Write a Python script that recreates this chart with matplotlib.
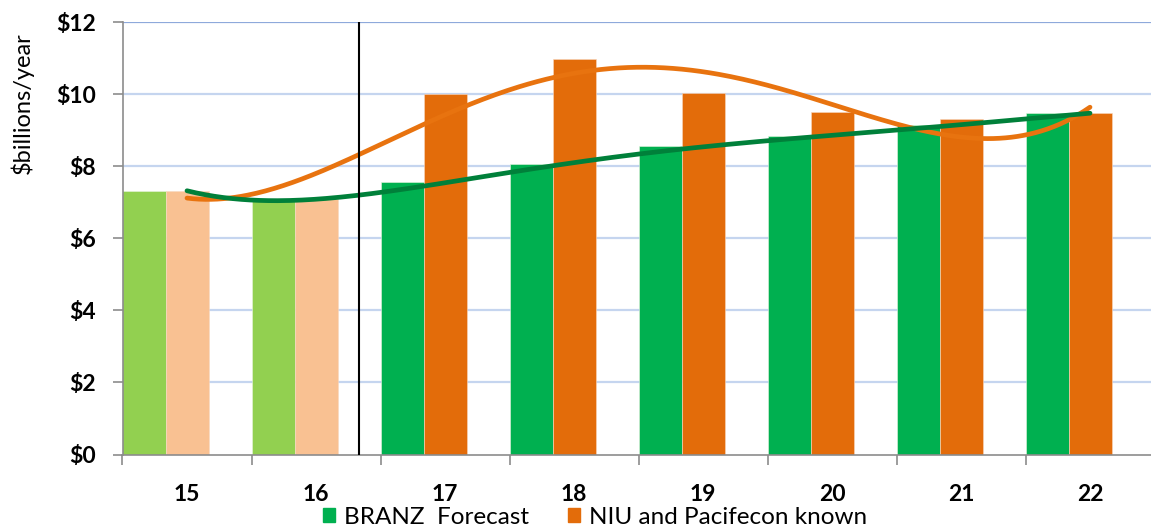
import numpy as np
import matplotlib.pyplot as plt
from matplotlib.patches import Patch

plt.rcParams['font.family'] = ['Lato', 'DejaVu Sans']

years = ['15', '16', '17', '18', '19', '20', '21', '22']
branz = [7.32, 7.07, 7.57, 8.06, 8.56, 8.85, 9.15, 9.47]
niu = [7.32, 7.10, 10.0, 10.98, 10.02, 9.49, 9.31, 9.47]
actual_years = 2   # first two years drawn in pale colours

green_cols = ['#92D050'] * actual_years + ['#00B050'] * (len(years) - actual_years)
orange_cols = ['#F9C192'] * actual_years + ['#E36C0A'] * (len(years) - actual_years)

x = np.arange(len(years))
w = 1 / 3

fig = plt.figure(figsize=(11.51, 5.28), dpi=100)
ax = fig.add_axes([122.5 / 1151, 73.5 / 528, 1032 / 1151, 432.5 / 528])

ax.bar(x - w, branz, width=w, color=green_cols, edgecolor='#E8F5E0', linewidth=0.4, zorder=2)
ax.bar(x, niu, width=w, color=orange_cols, edgecolor='#F8D8C0', linewidth=0.4, zorder=2)

# polynomial trendlines as in the spreadsheet
xs = np.linspace(0, len(years) - 1, 300)
g_fit = np.polyval(np.polyfit(x, branz, 5), xs)
o_fit = np.polyval(np.polyfit(x, niu, 4), xs)
ax.plot(xs, o_fit, color='#E8730F', lw=3.4, solid_capstyle='round', zorder=3)
ax.plot(xs, g_fit, color='#00803A', lw=3.4, solid_capstyle='round', zorder=4)

# separator between actuals and forecasts
ax.axvline(1 + w, color='black', lw=1.5, zorder=5)

ax.set_xlim(-0.5, len(years) - 0.5)
ax.set_ylim(0, 12)
ax.set_yticks(range(0, 13, 2))
ax.set_yticklabels(['$%d' % v for v in range(0, 13, 2)], fontsize=16.5, fontweight='bold')
ax.set_xticks(x)
ax.set_xticklabels(years, fontsize=16.5, fontweight='bold')
ax.set_xticks(np.arange(-0.5, len(years)), minor=True)
ax.tick_params(axis='x', which='major', length=0, pad=21)
ax.tick_params(axis='x', which='minor', length=7, color='#8C8C8C', width=1.2)
ax.tick_params(axis='y', length=7, color='#8C8C8C', width=1.2, pad=12)
ax.set_ylabel('$billions/year', fontsize=17)
ax.yaxis.set_label_coords(-0.086, 0.813)

for v in range(2, 13, 2):
    ax.axhline(v, color='#8EA9DB' if v == 12 else '#C5D5EF', lw=1.6, zorder=1)

for s in ['top', 'right']:
    ax.spines[s].set_visible(False)
ax.spines['left'].set_color('#8C8C8C')
ax.spines['bottom'].set_color('#8C8C8C')
ax.spines['left'].set_linewidth(1.2)
ax.spines['bottom'].set_linewidth(1.2)

handles = [Patch(color='#00B050'), Patch(color='#E36C0A')]
fig.legend(handles, ['BRANZ  Forecast', 'NIU and Pacifecon known'], loc='center',
           bbox_to_anchor=(595 / 1151, 11 / 528), ncol=2, frameon=False, fontsize=17.5,
           handlelength=0.5, handleheight=0.5, handletextpad=0.35, columnspacing=1.6,
           borderpad=0, borderaxespad=0)

plt.savefig('out.png', dpi=100)
